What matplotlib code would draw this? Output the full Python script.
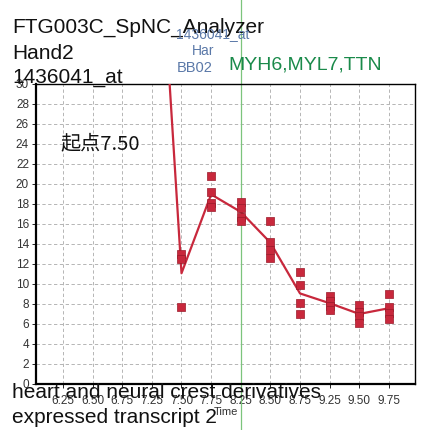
import matplotlib.pyplot as plt
import numpy as np

# time points (categorical axis)
times = ["6.25", "6.50", "6.75", "7.25", "7.50", "7.75", "8.25", "8.50", "8.75", "9.25", "9.50", "9.75"]

# replicate expression values per time point (first four are off the top of the plot)
reps = [
    [44.0, 47.0, 50.0],
    [52.0, 55.0, 58.0],
    [56.0, 60.0, 63.0],
    [55.0, 58.0, 62.0],
    [13.0, 12.5, 7.7],
    [20.8, 19.2, 18.1, 17.7],
    [18.2, 17.6, 16.7, 16.3],
    [16.3, 14.2, 13.4, 12.6],
    [11.2, 9.9, 8.1, 7.0],
    [8.8, 8.3, 7.8, 7.4],
    [7.9, 7.2, 6.8, 6.1],
    [9.0, 7.7, 7.1, 6.5],
]
yticks = list(range(0, 31, 2))
marker_idx = 6  # 8.25

plt.rcParams['font.family'] = ['Liberation Sans', 'Noto Sans CJK SC', 'DejaVu Sans']

fig = plt.figure(figsize=(4.23, 4.30), dpi=100)
ax = fig.add_axes([0.0851, 0.107, 0.896, 0.698])

red = '#c8283c'
xs = np.arange(len(times))
means = [np.mean(r) for r in reps]
ax.plot(xs, means, color=red, lw=1.6, zorder=3)
for i, r in enumerate(reps):
    ax.scatter([i] * len(r), r, marker='s', s=36, color=red, edgecolors='#9a1a2a',
               linewidths=0.5, zorder=4)

ax.set_xlim(-0.91, 11.88)
ax.set_ylim(0, 30)
ax.set_xticks(xs)
ax.set_xticklabels(times, fontsize=8.5, color='#333333')
ax.set_yticks(yticks)
ax.set_yticklabels([str(v) for v in yticks], fontsize=8.5, color='#333333')
ax.tick_params(axis='x', length=3, width=0.6, pad=5)
ax.tick_params(axis='y', length=3, width=0.6, pad=2)
ax.grid(True, color='#aaaaaa', ls=(0, (4, 3)), lw=0.6)
for s in ax.spines.values():
    s.set_color('black')
ax.spines['left'].set_linewidth(1.6)
ax.spines['bottom'].set_linewidth(1.6)
ax.spines['right'].set_linewidth(1.0)
ax.spines['top'].set_linewidth(1.0)
ax.set_xlabel("Time", fontsize=8, color='#333333', labelpad=0)

# green marker line through whole figure
ax.axvline(marker_idx, ymin=-0.16, ymax=1.44, color='#7cc47c', lw=0.9, clip_on=False, zorder=2)

# titles
fig.text(12 / 423, 1 - 33 / 430, "FTG003C_SpNC_Analyzer", fontsize=15, color='#111111', va='baseline')
fig.text(12 / 423, 1 - 59 / 430, "Hand2", fontsize=15, color='#111111', va='baseline')
fig.text(12 / 423, 1 - 83 / 430, "1436041_at", fontsize=15, color='#111111', va='baseline')

blue = '#5a78a8'
fig.text(213 / 423, 1 - 38 / 430, "1436041_at", fontsize=10, color=blue, ha='center', va='baseline')
fig.text(203 / 423, 1 - 55 / 430, "Har", fontsize=10, color=blue, ha='center', va='baseline')
fig.text(195 / 423, 1 - 72 / 430, "BB02", fontsize=10.5, color=blue, ha='center', va='baseline')
fig.text(228 / 423, 1 - 69 / 430, "MYH6,MYL7,TTN", fontsize=14, color='#1a8a4a', va='baseline')

ax.text(0.065, 0.80, "起点7.50", transform=ax.transAxes, fontsize=14.5, color='#111111',
        va='center', family=['Noto Sans CJK SC', 'DejaVu Sans'])

fig.text(12 / 423, 1 - 398 / 430, "heart and neural crest derivatives", fontsize=15,
         color='#111111', va='baseline')
fig.text(12 / 423, 1 - 423 / 430, "expressed transcript 2", fontsize=15,
         color='#111111', va='baseline')

fig.savefig("out.png", dpi=100)
